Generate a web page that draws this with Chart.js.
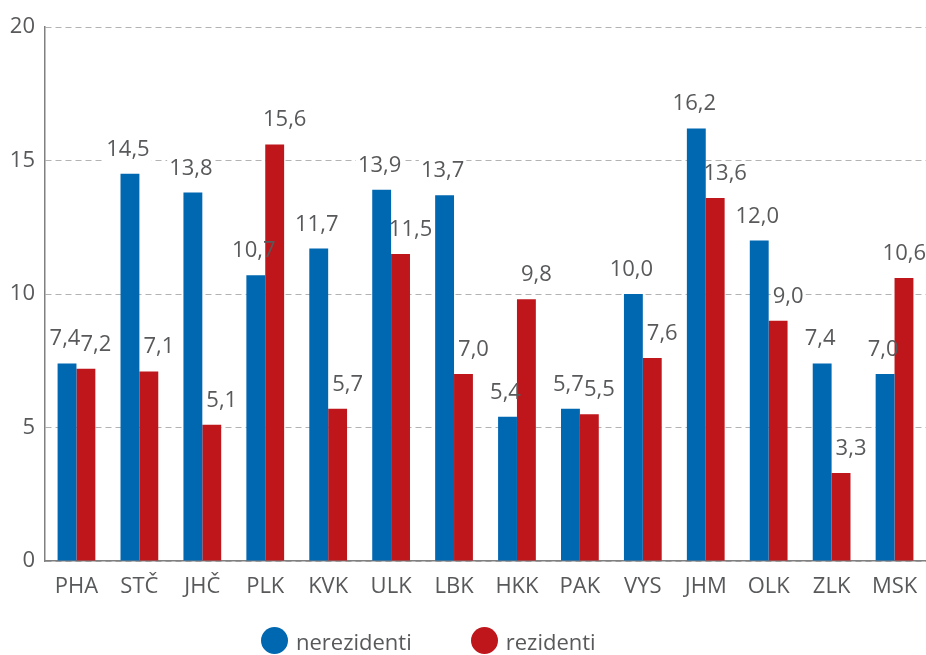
<!DOCTYPE html>
<html>
<head>
<meta charset="utf-8">
<script src="https://cdn.jsdelivr.net/npm/chart.js@4/dist/chart.umd.min.js"></script>
<style>
    html, body { margin: 0; padding: 0; background: #fff; overflow: hidden; }
    #wrap { position: relative; width: 926px; height: 655px; }
    #legend { position: absolute; left: 261px; top: 627px; height: 27px; display: flex;
        font-family: 'Open Sans', sans-serif; font-size: 22px; color: #58595b; }
    #legend .item { display: flex; align-items: center; margin-right: 59px; height: 27px; }
    #legend .dot { display: inline-block; width: 27px; height: 27px; border-radius: 50%; margin-right: 8px; }
</style>
</head>
<body>
<div id="wrap">
    <canvas id="barChart" width="926" height="655"></canvas>
    <div id="legend"></div>
</div>
<script>
// Data
const regions = ['PHA', 'STČ', 'JHČ', 'PLK', 'KVK', 'ULK', 'LBK', 'HKK', 'PAK', 'VYS', 'JHM', 'OLK', 'ZLK', 'MSK'];
const nerezidenti = [7.4, 14.5, 13.8, 10.7, 11.7, 13.9, 13.7, 5.4, 5.7, 10.0, 16.2, 12.0, 7.4, 7.0];
const rezidenti = [7.2, 7.1, 5.1, 15.6, 5.7, 11.5, 7.0, 9.8, 5.5, 7.6, 13.6, 9.0, 3.3, 10.6];
const yTicks = [0, 5, 10, 15, 20];

const seriesNames = ['nerezidenti', 'rezidenti'];
const seriesColors = ['#0067b1', '#be161b'];
const textColor = '#58595b';
const fontFamily = "'Open Sans', sans-serif";

// Value labels above bars (comma decimal), white box behind them hides the grid
function eachLabel(chart, cb) {
    const ctx = chart.ctx;
    const shift = [-2, 10];
    ctx.font = '22px ' + fontFamily;
    chart.data.datasets.forEach(function(ds, i) {
        chart.getDatasetMeta(i).data.forEach(function(bar, j) {
            const txt = ds.data[j].toFixed(1).replace('.', ',');
            const w = ctx.measureText(txt).width;
            let x = bar.x + shift[i];
            x = Math.min(x, chart.chartArea.right - w / 2);
            cb(txt, x, bar.y - 18, w);
        });
    });
}

const valueLabels = {
    id: 'valueLabels',
    beforeDatasetsDraw(chart) {
        const ctx = chart.ctx;
        ctx.save();
        ctx.fillStyle = '#ffffff';
        eachLabel(chart, function(txt, x, y, w) {
            ctx.fillRect(x - w / 2 - 2, y - 18, w + 4, 24);
        });
        ctx.restore();
    },
    afterDatasetsDraw(chart) {
        const ctx = chart.ctx;
        ctx.save();
        ctx.fillStyle = textColor;
        ctx.textAlign = 'center';
        ctx.textBaseline = 'alphabetic';
        eachLabel(chart, function(txt, x, y) {
            ctx.fillText(txt, x, y);
        });
        ctx.restore();
    }
};

new Chart(document.getElementById('barChart').getContext('2d'), {
    type: 'bar',
    data: {
        labels: regions,
        datasets: [{
            label: seriesNames[0],
            data: nerezidenti,
            backgroundColor: seriesColors[0]
        }, {
            label: seriesNames[1],
            data: rezidenti,
            backgroundColor: seriesColors[1]
        }]
    },
    options: {
        responsive: false,
        animation: false,
        categoryPercentage: 0.6,
        barPercentage: 1.0,
        layout: { padding: { top: 27, right: 0, bottom: 54, left: 0 } },
        plugins: {
            legend: { display: false },
            tooltip: { enabled: false }
        },
        scales: {
            x: {
                grid: { display: false },
                border: { color: '#808080', width: 1.5 },
                ticks: { color: textColor, font: { family: fontFamily, size: 22 }, padding: 5 },
                afterFit: function(scale) { scale.height = 40; }
            },
            y: {
                min: 0,
                max: 20,
                afterBuildTicks: function(scale) { scale.ticks = yTicks.map(v => ({ value: v })); },
                grid: { color: '#b3b3b3', lineWidth: 1, drawTicks: false },
                border: { color: '#808080', width: 1.5, dash: [6, 4] },
                ticks: { color: textColor, font: { family: fontFamily, size: 22 }, padding: 10 },
                afterFit: function(scale) { scale.width = 45; }
            }
        }
    },
    plugins: [valueLabels]
});

// Legend
const legend = document.getElementById('legend');
seriesNames.forEach(function(name, i) {
    const item = document.createElement('span');
    item.className = 'item';
    const dot = document.createElement('span');
    dot.className = 'dot';
    dot.style.background = seriesColors[i];
    item.appendChild(dot);
    item.appendChild(document.createTextNode(name));
    legend.appendChild(item);
});
</script>
</body>
</html>
